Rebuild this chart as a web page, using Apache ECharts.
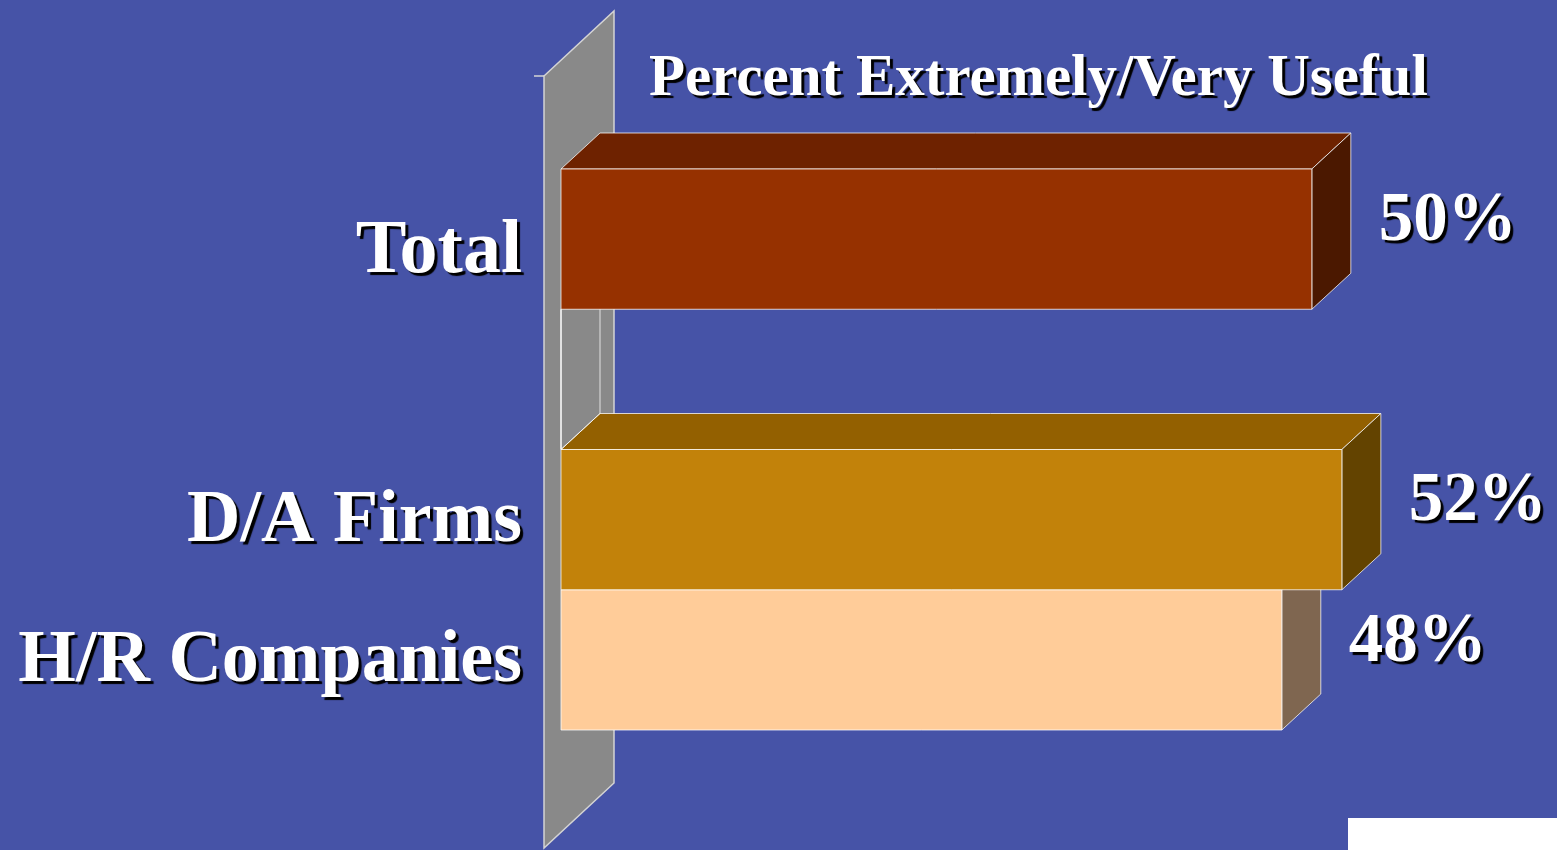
<!DOCTYPE html>
<html>
<head>
<meta charset="utf-8">
<title>Percent Extremely/Very Useful</title>
<script src="https://cdn.jsdelivr.net/npm/echarts@6/dist/echarts.min.js"></script>
<style>
  html, body { margin: 0; padding: 0; background: #4653A7; }
  #chart { width: 1557px; height: 850px; }
</style>
</head>
<body>
<div id="chart"></div>
<script>
// Rows of the chart, top to bottom; the empty row is a spacer between Total and the segments.
const categories = ['Total', '', 'D/A Firms', 'H/R Companies'];
const values = [50, null, 52, 48];
const valueLabels = ['50%', '', '52%', '48%'];
const titleText = 'Percent Extremely/Very Useful';

// Face colours per row: front, top, side
const frontColors = ['#963100', 'transparent', '#C2820A', '#FFCC99'];
const topColors = ['#6E2200', 'transparent', '#936000', '#BF9973'];
const sideColors = ['#4B1800', 'transparent', '#634300', '#7F6650'];

const SERIF = '"Liberation Serif", "Times New Roman", serif';
const GRID = { left: 561, top: 169, width: 901, height: 561 };
const DEPTH = [39, -36];          // oblique offset of a bar's back face
const WALL_DEPTH = [70, -65];     // oblique offset of the side wall
const EDGE = 'rgba(255,255,255,0.75)';
// drop shadow used by every text in the chart
const shadow = { textShadowColor: '#000', textShadowOffsetX: 3, textShadowOffsetY: 3, textShadowBlur: 1 };

const chart = echarts.init(document.getElementById('chart'), null, { renderer: 'canvas' });

function renderBar(params, api) {
  const i = params.dataIndex;
  let v = api.value(0);
  if (isNaN(v)) v = 0;
  const cat = api.value(1);
  const p0 = api.coord([0, cat]);
  const p1 = api.coord([v, cat]);
  const h = api.size([0, 1])[1];
  const x0 = p0[0], x1 = p1[0];
  const yt = p0[1] - h / 2, yb = p0[1] + h / 2;
  const dx = DEPTH[0], dy = DEPTH[1];
  const z2 = 10 - i;
  const edge = { stroke: EDGE, lineWidth: 1 };
  const children = [
    { type: 'polygon', z2: z2,
      shape: { points: [[x0, yt], [x1, yt], [x1 + dx, yt + dy], [x0 + dx, yt + dy]] },
      style: Object.assign({ fill: topColors[i] }, edge) },
    { type: 'polygon', z2: z2,
      shape: { points: [[x1, yt], [x1 + dx, yt + dy], [x1 + dx, yb + dy], [x1, yb]] },
      style: Object.assign({ fill: sideColors[i] }, edge) },
    { type: 'rect', z2: z2,
      shape: { x: x0, y: yt, width: x1 - x0, height: yb - yt },
      style: Object.assign({ fill: frontColors[i] }, edge) }
  ];
  if (valueLabels[i]) {
    children.push({
      type: 'text', z2: 20,
      x: x1 + dx + 28, y: p0[1] + dy / 2 + 1,
      style: Object.assign({
        text: valueLabels[i], fill: '#fff',
        font: 'bold 69px ' + SERIF, align: 'left', verticalAlign: 'middle'
      }, shadow)
    });
  }
  return { type: 'group', children: children };
}

// Grey side wall standing at the value axis origin
const wallX = GRID.left - 17;
const wallTop = GRID.top - 93;
const wallBottom = GRID.top + GRID.height + 118;
const wall = [
  { type: 'polygon', z: 0,
    shape: { points: [[wallX, wallTop], [wallX + WALL_DEPTH[0], wallTop + WALL_DEPTH[1]],
                      [wallX + WALL_DEPTH[0], wallBottom + WALL_DEPTH[1]], [wallX, wallBottom]] },
    style: { fill: '#898989', stroke: '#D4D4D4', lineWidth: 1.5 } },
  { type: 'line', z: 0,
    shape: { x1: wallX - 10, y1: wallTop, x2: wallX, y2: wallTop },
    style: { stroke: '#D4D4D4', lineWidth: 1.5 } },
  { type: 'rect', z: 100,
    shape: { x: 1348, y: 818, width: 209, height: 32 },
    style: { fill: '#FFFFFF' } }
];

const labelFont = { color: '#fff', fontFamily: SERIF, fontWeight: 'bold' };

chart.setOption({
  backgroundColor: '#4653A7',
  animation: false,
  title: {
    text: titleText,
    left: 644, top: 45,
    textStyle: Object.assign({ color: '#fff', fontFamily: SERIF, fontWeight: 'bold', fontSize: 59 }, shadow)
  },
  grid: Object.assign({ containLabel: false }, GRID),
  xAxis: { type: 'value', min: 0, max: 60, show: false },
  yAxis: {
    type: 'category', data: categories, inverse: true,
    axisLine: { show: false }, axisTick: { show: false }, splitLine: { show: false },
    axisLabel: Object.assign({
      fontSize: 74, margin: 39,
      formatter: function (v) { return v === categories[0] ? '{low|' + v + '}' : '{std|' + v + '}'; },
      rich: {
        low: Object.assign({ padding: [26, 0, 0, 0], fontSize: 76 }, labelFont, shadow),
        std: Object.assign({ padding: [5, 0, 0, 0], fontSize: 74 }, labelFont, shadow)
      }
    }, labelFont, shadow)
  },
  graphic: wall,
  series: [{
    type: 'custom',
    renderItem: renderBar,
    clip: false,
    z: 2,
    data: values.map(function (v, i) { return [v, i]; })
  }]
});
</script>
</body>
</html>
